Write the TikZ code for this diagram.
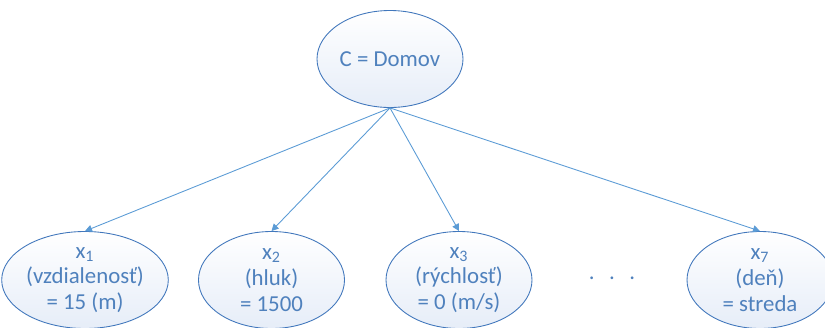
\documentclass[tikz,border=0pt]{standalone}
\usepackage{fontspec}
\setmainfont{Carlito}
\usepackage{tikz}
\usetikzlibrary{shapes.geometric,arrows.meta}

\definecolor{lineblue}{RGB}{91,155,213}
\definecolor{edgeblue}{RGB}{65,119,188}
\definecolor{textblue}{RGB}{79,129,189}
\definecolor{fillblue}{RGB}{230,237,248}

\tikzset{
    attr/.style={ellipse, draw=edgeblue, line width=0.5pt, top color=white, bottom color=fillblue,
        minimum width=2.92cm, minimum height=1.94cm, inner sep=0pt, align=center,
        text=textblue, font=\fontsize{13}{14.6}\selectfont},
    >={Triangle[length=4pt,width=4pt]}
}

\begin{document}
\begin{tikzpicture}
    \useasboundingbox (0,0) rectangle (16.5,6.54);
    \node[attr] (C) at (7.8,5.36) {C = Domov};
    \node[attr] (X1) at (1.7,0.94) {x\textsubscript{1}\\(vzdialenosť)\\= 15 (m)};
    \node[attr] (X2) at (5.43,0.94) {x\textsubscript{2}\\(hluk)\\= 1500};
    \node[attr] (X3) at (9.18,0.94) {x\textsubscript{3}\\(rýchlosť)\\= 0 (m/s)};
    \node[text=textblue, font=\fontsize{13}{14.6}\selectfont] (dots) at (12.24,0.98) {.\hspace{0.29cm}.\hspace{0.29cm}.};
    \node[attr] (X7) at (15.2,0.94) {x\textsubscript{7}\\(deň)\\= streda};
    \draw[->, lineblue, line width=0.5pt] (C.south) -- (X1.north);
    \draw[->, lineblue, line width=0.5pt] (C.south) -- (X2.north);
    \draw[->, lineblue, line width=0.5pt] (C.south) -- (X3.north);
    \draw[->, lineblue, line width=0.5pt] (C.south) -- (X7.north);
\end{tikzpicture}
\end{document}
